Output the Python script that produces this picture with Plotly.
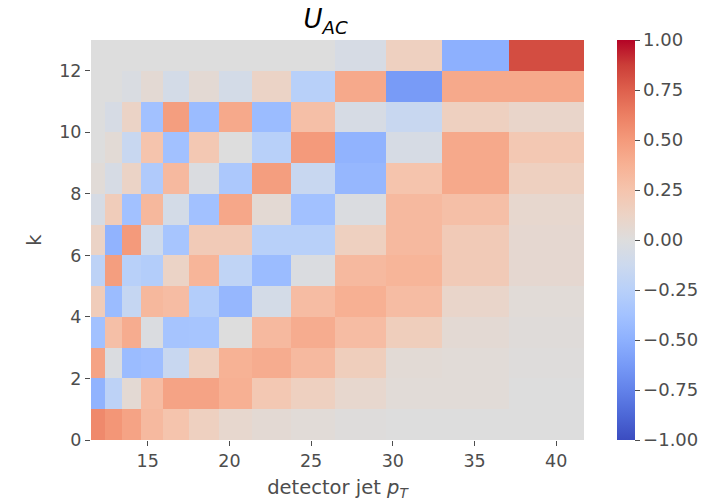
import plotly.graph_objects as go

# bin edges of detector jet pT (columns) and k (rows)
pt_edges = [11.53, 12.38, 13.41, 14.59, 15.96, 17.53, 19.37, 21.39, 23.78, 26.45, 29.57, 33.04, 37.08, 41.7]
k_edges = list(range(0, 14))

# values per row (k = 0 .. 12), each row has 13 pT bins
row_k0 = [0.58, 0.52, 0.45, 0.32, 0.25, 0.15, 0.08, 0.05, 0.03, 0.01, 0.0, 0.0, 0.0]
row_k1 = [-0.48, -0.22, 0.05, 0.30, 0.45, 0.45, 0.38, 0.22, 0.15, 0.08, 0.03, 0.03, 0.0]
row_k2 = [0.45, -0.02, -0.42, -0.40, -0.15, 0.15, 0.37, 0.40, 0.32, 0.17, 0.04, 0.03, 0.01]
row_k3 = [-0.38, 0.28, 0.40, -0.02, -0.36, -0.35, 0.0, 0.32, 0.40, 0.30, 0.17, 0.05, 0.02]
row_k4 = [0.18, -0.42, -0.17, 0.33, 0.30, -0.28, -0.45, -0.07, 0.30, 0.38, 0.30, 0.10, 0.03]
row_k5 = [-0.22, 0.48, -0.25, -0.28, 0.12, 0.35, -0.20, -0.42, -0.02, 0.32, 0.35, 0.20, 0.07]
row_k6 = [0.12, -0.48, 0.50, -0.10, -0.35, 0.20, 0.20, -0.25, -0.25, 0.15, 0.32, 0.20, 0.07]
row_k7 = [-0.05, 0.18, -0.38, 0.33, -0.07, -0.38, 0.43, 0.05, -0.38, -0.02, 0.32, 0.28, 0.08]
row_k8 = [0.03, -0.05, 0.12, -0.30, 0.32, -0.02, -0.32, 0.48, -0.15, -0.45, 0.25, 0.42, 0.15]
row_k9 = [0.0, 0.04, -0.15, 0.25, -0.38, 0.22, 0.0, -0.25, 0.50, -0.48, -0.05, 0.42, 0.22]
row_k10 = [0.0, -0.05, 0.12, -0.38, 0.48, -0.42, 0.42, -0.42, 0.28, -0.05, -0.15, 0.15, 0.10]
row_k11 = [0.0, 0.0, -0.03, 0.05, -0.07, 0.05, -0.07, 0.12, -0.25, 0.42, -0.62, 0.42, 0.42]
row_k12 = [0.0, 0.0, 0.0, 0.0, 0.0, 0.0, 0.0, 0.0, 0.0, -0.05, 0.15, -0.50, 0.82]

z = [row_k0, row_k1, row_k2, row_k3, row_k4, row_k5, row_k6,
     row_k7, row_k8, row_k9, row_k10, row_k11, row_k12]

x_ticks = [15, 20, 25, 30, 35, 40]
y_ticks = [0, 2, 4, 6, 8, 10, 12]
cbar_ticks = [-1.0, -0.75, -0.5, -0.25, 0.0, 0.25, 0.5, 0.75, 1.0]

coolwarm = [
    [0.0, "rgb(59,76,192)"], [0.0625, "rgb(77,104,215)"], [0.125, "rgb(98,130,234)"],
    [0.1875, "rgb(119,154,247)"], [0.25, "rgb(141,176,254)"], [0.3125, "rgb(163,194,255)"],
    [0.375, "rgb(184,208,249)"], [0.4375, "rgb(204,217,238)"], [0.5, "rgb(221,221,221)"],
    [0.5625, "rgb(236,211,197)"], [0.625, "rgb(245,196,173)"], [0.6875, "rgb(247,177,148)"],
    [0.75, "rgb(244,154,123)"], [0.8125, "rgb(236,127,99)"], [0.875, "rgb(222,96,77)"],
    [0.9375, "rgb(203,62,56)"], [1.0, "rgb(180,4,38)"],
]

txt = "#4d4d4d"
font = "DejaVu Sans"

fig = go.Figure(go.Heatmap(
    x=pt_edges, y=k_edges, z=z,
    zmin=-1, zmax=1, colorscale=coolwarm,
    colorbar=dict(
        x=1.067, xanchor="left", xref="paper", xpad=0, ypad=0,
        y=0.5, yanchor="middle",
        len=1.0, lenmode="fraction", thickness=18, outlinewidth=0,
        tickvals=cbar_ticks, tickformat=".2f", ticks="outside", ticklen=5,
        tickcolor=txt, tickfont=dict(family=font, size=18, color=txt),
    ),
))

fig.update_layout(
    width=728, height=502,
    margin=dict(l=91, r=144, t=40, b=62, autoexpand=False),
    paper_bgcolor="white", plot_bgcolor="white",
    font=dict(family=font, color=txt),
    title=dict(text="<i>U</i><sub><i>AC</i></sub>", x=0.476, xref="paper", xanchor="center",
               y=0.962, yanchor="middle", font=dict(family=font, size=26, color="black")),
)
fig.update_xaxes(range=[pt_edges[0], pt_edges[-1]], tickvals=x_ticks, ticks="outside",
                 ticklen=5, tickcolor=txt, showgrid=False, zeroline=False, showline=False,
                 automargin=False,
                 tickfont=dict(family=font, size=17.5, color=txt),
                 title=dict(text="detector jet <i>p</i><sub><i>T</i></sub>", standoff=10,
                            font=dict(family=font, size=19.5, color=txt)))
fig.update_yaxes(range=[0, 13], tickvals=y_ticks, ticks="outside", ticklen=5,
                 tickcolor=txt, showgrid=False, zeroline=False, showline=False,
                 automargin=False,
                 tickfont=dict(family=font, size=17.5, color=txt),
                 title=dict(text="k", standoff=12, font=dict(family=font, size=19.5, color=txt)))

fig.write_html("out.html")
